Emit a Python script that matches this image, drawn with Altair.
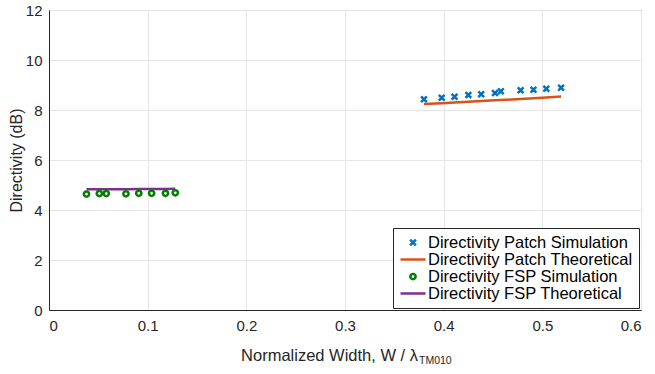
import altair as alt
import pandas as pd

# Patch antenna: normalized width vs directivity (dB)
patch_x = [0.380, 0.398, 0.411, 0.425, 0.438, 0.452, 0.458, 0.478, 0.491, 0.504, 0.519]
patch_sim = [8.43, 8.49, 8.53, 8.60, 8.63, 8.68, 8.75, 8.79, 8.81, 8.85, 8.89]
patch_theory = [8.24, 8.27, 8.30, 8.33, 8.36, 8.39, 8.40, 8.44, 8.47, 8.50, 8.54]

# FSP antenna
fsp_x = [0.038, 0.051, 0.058, 0.078, 0.091, 0.104, 0.118, 0.128]
fsp_sim = [4.64, 4.66, 4.66, 4.65, 4.67, 4.67, 4.67, 4.69]
fsp_theory = [4.83, 4.83, 4.83, 4.83, 4.84, 4.84, 4.84, 4.85]

series_names = [
    "Directivity Patch Simulation",
    "Directivity Patch Theoretical",
    "Directivity FSP Simulation",
    "Directivity FSP Theoretical",
]
series_colors = ["#0072BD", "#D95319", "#008000", "#7E2F8E"]

x_ticks = [0, 0.1, 0.2, 0.3, 0.4, 0.5, 0.6]
y_ticks = [0, 2, 4, 6, 8, 10, 12]

FONT = "Liberation Sans"
INK = "#262626"

rows = []
for xs, ys, name in [
    (patch_x, patch_sim, series_names[0]),
    (patch_x, patch_theory, series_names[1]),
    (fsp_x, fsp_sim, series_names[2]),
    (fsp_x, fsp_theory, series_names[3]),
]:
    for xv, yv in zip(xs, ys):
        rows.append({"series": name, "w": xv, "d": yv})
df = pd.DataFrame(rows)

# marker shapes drawn inside a [-1, 1] box; symbol size 625 gives a 25 px legend line
cross_path = "M-0.23,-0.23L0.23,0.23M0.23,-0.23L-0.23,0.23"
circle_path = "M0.21,0A0.21,0.21,0,1,1,-0.21,0A0.21,0.21,0,1,1,0.21,0Z"
line_path = "M-1,0L1,0"

x_enc = alt.X(
    "w:Q",
    scale=alt.Scale(domain=[0, 0.6], nice=False),
    axis=alt.Axis(values=x_ticks, format=".1~f", title=None),
)
y_enc = alt.Y(
    "d:Q",
    scale=alt.Scale(domain=[0, 12], nice=False),
    axis=alt.Axis(values=y_ticks, title="Directivity (dB)"),
)
color_enc = alt.Color(
    "series:N",
    scale=alt.Scale(domain=series_names, range=series_colors),
    legend=alt.Legend(
        title=None,
        orient="none",
        legendX=344,
        legendY=218,
        symbolSize=625,
        symbolStrokeWidth=2.5,
        clipHeight=17,
        rowPadding=0,
        labelFont=FONT,
        labelFontSize=16.5,
        labelColor="#000000",
        labelOffset=1,
        padding=6,
        fillColor="#ffffff",
        strokeColor="#262626",
        cornerRadius=0,
        labelLimit=400,
    ),
)
shape_enc = alt.Shape(
    "series:N",
    scale=alt.Scale(domain=series_names, range=[cross_path, line_path, circle_path, line_path]),
    legend=None,
)

base = alt.Chart(df)

points = base.transform_filter(
    alt.FieldOneOfPredicate(field="series", oneOf=[series_names[0], series_names[2]])
).mark_point(filled=False, size=625, strokeWidth=2.5, opacity=1).encode(
    x=x_enc, y=y_enc, color=color_enc, shape=shape_enc
)

lines = base.transform_filter(
    alt.FieldOneOfPredicate(field="series", oneOf=[series_names[1], series_names[3]])
).mark_line(strokeWidth=2.5).encode(x=x_enc, y=y_enc, color=color_enc)

# x-axis title with a subscript
title_df = pd.DataFrame({"main": ["Normalized Width, W / \u03bb"], "sub": ["TM010"]})
title_main = alt.Chart(title_df).mark_text(
    font=FONT, fontSize=16.5, color=INK, align="right", baseline="alphabetic"
).encode(text="main:N", x=alt.value(369), y=alt.value(350.5))
title_sub = alt.Chart(title_df).mark_text(
    font=FONT, fontSize=10.5, color=INK, align="left", baseline="alphabetic"
).encode(text="sub:N", x=alt.value(370), y=alt.value(353.5))

chart = (
    alt.layer(lines, points, title_main, title_sub)
    .properties(
        width=592,
        height=300,
        autosize=alt.AutoSizeParams(type="none"),
        padding={"left": 49, "top": 10, "right": 14, "bottom": 64},
    )
    .configure_view(stroke=INK, strokeWidth=1)
    .configure_axis(
        labelFont=FONT,
        labelFontSize=15,
        labelColor=INK,
        titleFont=FONT,
        titleFontSize=16,
        titleFontWeight="normal",
        titleColor=INK,
        domainColor=INK,
        ticks=False,
        gridColor="#e6e6e6",
        gridWidth=1,
    )
    .configure_axisX(labelPadding=8)
    .configure_axisY(labelPadding=7, titlePadding=1)
)

chart.save("out.html", embed_options={"renderer": "svg", "actions": False})
